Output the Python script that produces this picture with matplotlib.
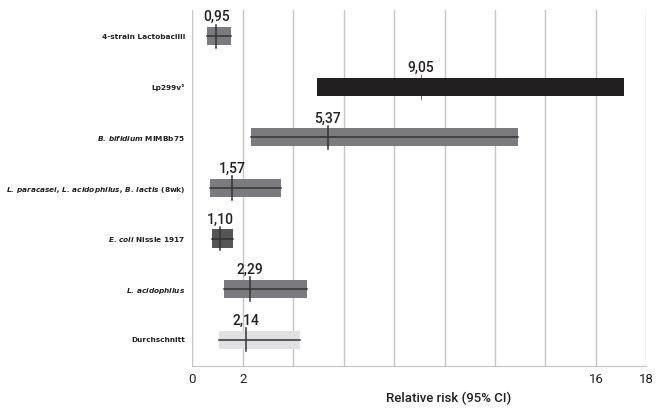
import matplotlib
matplotlib.use("Agg")
import matplotlib.pyplot as plt

plt.rcParams["mathtext.fontset"] = "custom"
plt.rcParams["mathtext.bfit"] = "DejaVu Sans:italic:bold"
plt.rcParams["mathtext.rm"] = "DejaVu Sans:bold"

categories = [
    "4-strain Lactobacilli",
    "Lp299v°",
    r"$\mathbfit{B.\,bifidium}$ MIMBb75",
    r"$\mathbfit{L.\,paracasei,\,L.\,acidophilus,\,B.\,lactis}$ (8wk)",
    r"$\mathbfit{E.\,coli}$ Nissle 1917",
    r"$\mathbfit{L.\,acidophilus}$",
    "Durchschnitt",
]
rr = [0.95, 9.05, 5.37, 1.57, 1.10, 2.29, 2.14]
ci_low = [0.58, 4.94, 2.33, 0.71, 0.78, 1.26, 1.06]
ci_high = [1.52, 17.1, 12.9, 3.50, 1.60, 4.55, 4.26]
rr_labels = ["0,95", "9,05", "5,37", "1,57", "1,10", "2,29", "2,14"]
bar_colors = ["#7b7b7f", "#231f20", "#7b7b7f", "#7b7b7f", "#555557", "#7b7b7f", "#e0e0e2"]
xticks = [0, 2, 16, 18]

fig = plt.figure(figsize=(6.6, 4.08), dpi=100)
ax = fig.add_axes([0.2914, 0.103, 0.6879, 0.8726])

ypos = list(range(len(categories)))
bar_h = 0.36

for i in ypos:
    ax.barh(i, ci_high[i] - ci_low[i], left=ci_low[i], height=bar_h,
            color=bar_colors[i], zorder=3)
    if i != 1:
        ax.plot([ci_low[i], ci_high[i]], [i, i], color="#333333",
                linewidth=1.1, zorder=4)
        ax.plot([rr[i], rr[i]], [i - 0.23, i + 0.23], color="#333333",
                linewidth=1.1, zorder=4)
    else:
        ax.plot([rr[i], rr[i]], [i - 0.24, i + 0.24], color="#555555",
                linewidth=0.6, zorder=2)
    ax.annotate(rr_labels[i], (rr[i], i - bar_h / 2), xytext=(0, 2),
                textcoords="offset points", ha="center", va="bottom",
                fontsize=10, fontweight="medium", color="#231f20",
                family=["Roboto", "DejaVu Sans"])

ax.set_xlim(0, 18)
ax.set_ylim(6.52, -0.52)
ax.set_xticks(xticks)
ax.set_xticklabels(["0", "2", "16", "18"], fontsize=9.5, family=["Roboto", "DejaVu Sans"],
                   color="#231f20")
ax.set_yticks(ypos)
ax.set_yticklabels(categories, fontsize=5.3, fontweight="bold",
                   family=["DejaVu Sans"], color="#231f20")
ax.tick_params(length=0, pad=5)
ax.tick_params(axis="x", pad=5)

for gx in range(0, 19, 2):
    ax.axvline(gx, color="#c4c4c4", linewidth=1, zorder=1)

for side in ["top", "right", "left"]:
    ax.spines[side].set_visible(False)
ax.spines["bottom"].set_color("#c4c4c4")

ax.text(10.18, -0.09, "Relative risk (95% CI)", transform=ax.get_xaxis_transform(),
        ha="center", va="center", fontsize=9.5, fontweight="medium",
        family=["Roboto", "DejaVu Sans"], color="#231f20")

fig.savefig("out.png", dpi=100)
